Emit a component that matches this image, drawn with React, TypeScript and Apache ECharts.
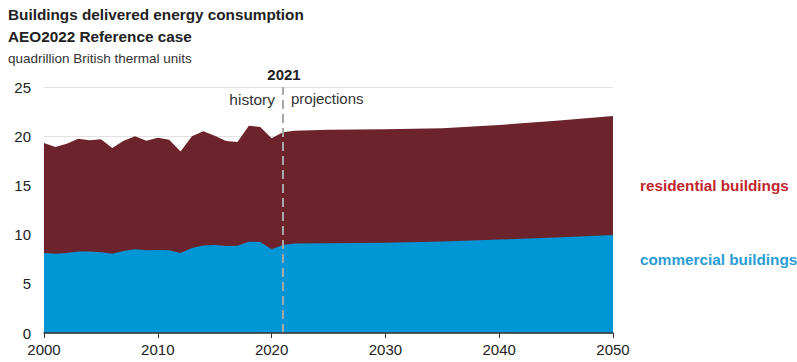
import React, { useEffect, useRef } from "react";
import * as echarts from "echarts";

const years = [
  2000, 2001, 2002, 2003, 2004, 2005, 2006, 2007, 2008, 2009, 2010, 2011,
  2012, 2013, 2014, 2015, 2016, 2017, 2018, 2019, 2020, 2021,
  2022, 2025, 2030, 2035, 2040, 2045, 2050,
];
const commercial = [
  8.13, 8.06, 8.13, 8.27, 8.27, 8.2, 8.06, 8.33, 8.5, 8.4, 8.43, 8.4,
  8.13, 8.64, 8.9, 8.94, 8.84, 8.87, 9.28, 9.25, 8.5, 8.94,
  9.1, 9.12, 9.18, 9.3, 9.5, 9.7, 9.96,
];
const residential = [
  11.17, 10.84, 11.11, 11.48, 11.33, 11.5, 10.74, 11.22, 11.5, 11.15, 11.42, 11.25,
  10.32, 11.36, 11.6, 11.11, 10.66, 10.53, 11.79, 11.68, 11.3, 11.46,
  11.46, 11.54, 11.52, 11.5, 11.64, 11.88, 12.09,
];
const xTicks = [2000, 2010, 2020, 2030, 2040, 2050];
const yTicks = [0, 5, 10, 15, 20, 25];
const projectionStart = 2021;

const FONT = "'Liberation Sans', Arial, sans-serif";

export default function App() {
  const ref = useRef<HTMLDivElement>(null);
  useEffect(() => {
    if (!ref.current) return;
    const chart = echarts.init(ref.current, undefined, { renderer: "svg" });
    const totals = years.map((y, i) => [y, +(commercial[i] + residential[i]).toFixed(2)]);
    chart.setOption({
      animation: false,
      textStyle: { fontFamily: FONT },
      grid: { left: 44, right: 184, top: 87, bottom: 29 },
      xAxis: {
        type: "value",
        min: xTicks[0],
        max: xTicks[xTicks.length - 1],
        interval: 10,
        axisLine: { show: true, onZero: false, lineStyle: { color: "#333", width: 1.5 } },
        axisTick: { show: true, length: 5, lineStyle: { color: "#333" } },
        axisLabel: { color: "#222", fontSize: 15, fontFamily: FONT, margin: 9, formatter: (v: number) => String(v) },
        splitLine: { show: false },
        z: 10,
      },
      yAxis: {
        type: "value",
        min: yTicks[0],
        max: yTicks[yTicks.length - 1],
        interval: 5,
        axisLine: { show: false },
        axisTick: { show: false },
        axisLabel: { color: "#222", fontSize: 15, fontFamily: FONT, margin: 13 },
        splitLine: { show: true, lineStyle: { color: "#e2e2e2", width: 1 } },
      },
      series: [
        {
          name: "residential buildings",
          type: "line",
          symbol: "none",
          lineStyle: { width: 0 },
          areaStyle: { color: "#6c232b", opacity: 1 },
          data: totals,
          z: 2,
        },
        {
          name: "commercial buildings",
          type: "line",
          symbol: "none",
          lineStyle: { width: 0 },
          areaStyle: { color: "#0096d6", opacity: 1 },
          data: years.map((y, i) => [y, commercial[i]]),
          z: 3,
        },
        {
          name: "divider",
          type: "line",
          data: [],
          z: 5,
          markLine: {
            silent: true,
            symbol: "none",
            label: { show: false },
            lineStyle: { color: "#a8a8a8", type: [9, 5], width: 2 },
            data: [{ xAxis: projectionStart }],
          },
        },
      ],
      graphic: [
        { type: "text", left: 8, top: 7, style: { text: "Buildings delivered energy consumption", font: `bold 15.3px ${FONT}`, fill: "#222" } },
        { type: "text", left: 8, top: 29, style: { text: "AEO2022 Reference case", font: `bold 15.3px ${FONT}`, fill: "#222" } },
        { type: "text", left: 8, top: 51, style: { text: "quadrillion British thermal units", font: `13.5px ${FONT}`, fill: "#333" } },
        { type: "text", x: 284, y: 67, style: { text: "2021", font: `bold 15px ${FONT}`, fill: "#222", align: "center" } },
        { type: "text", x: 275, y: 91, style: { text: "history", font: `15.5px ${FONT}`, fill: "#333", align: "right" } },
        { type: "text", x: 291, y: 91, style: { text: "projections", font: `15px ${FONT}`, fill: "#333", align: "left" } },
        { type: "text", x: 640, y: 178, style: { text: "residential buildings", font: `bold 15.3px ${FONT}`, fill: "#c0262d" } },
        { type: "text", x: 640, y: 252, style: { text: "commercial buildings", font: `bold 15.3px ${FONT}`, fill: "#2a9dd6" } },
      ],
    });
    return () => chart.dispose();
  }, []);
  return <div ref={ref} style={{ width: 797, height: 362, position: "absolute", left: 0, top: 0 }} />;
}
